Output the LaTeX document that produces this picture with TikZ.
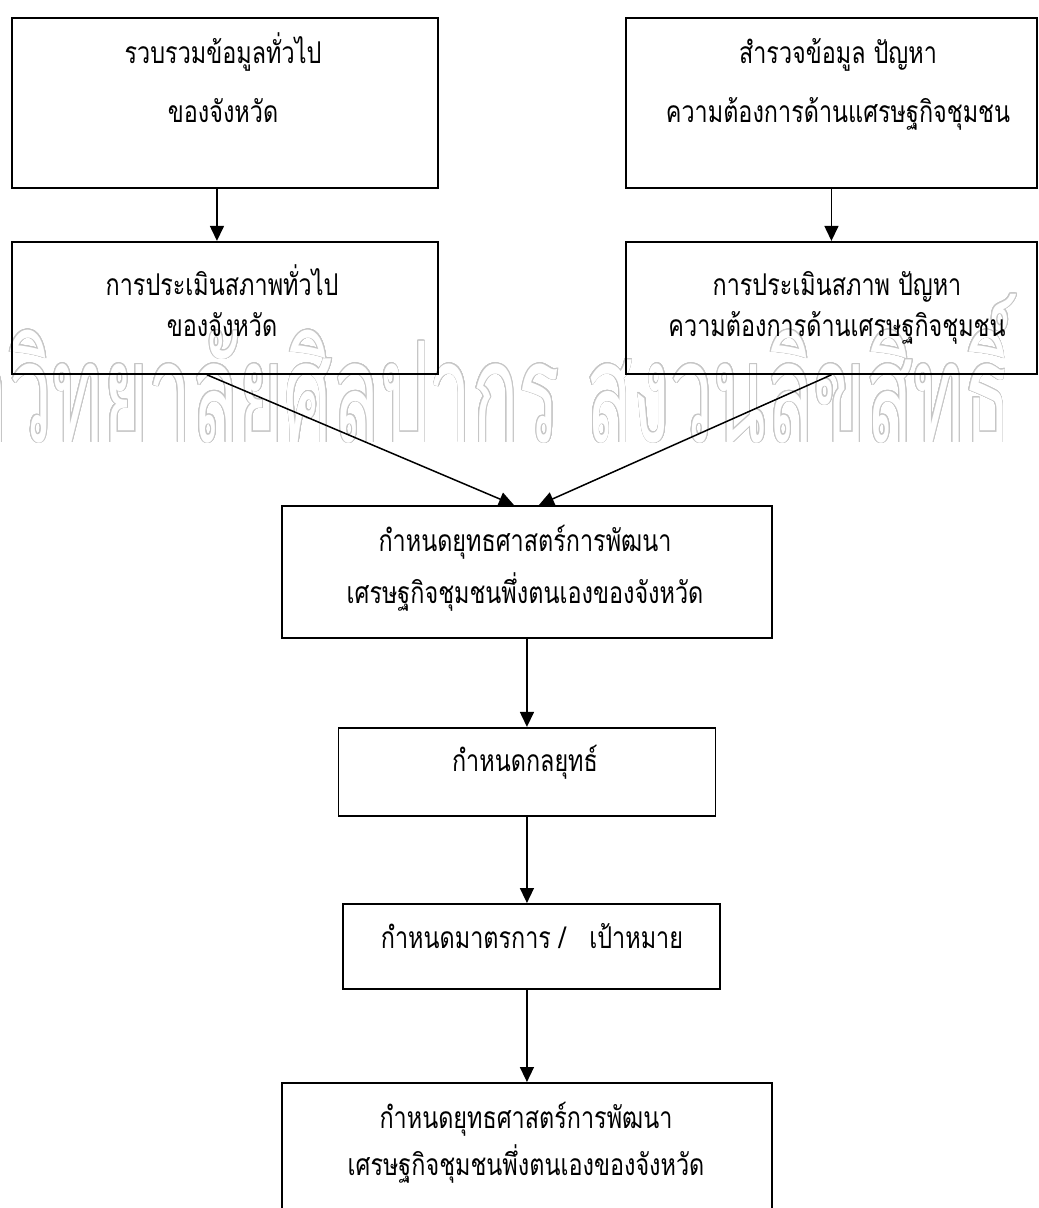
\documentclass[tikz,border=0pt]{standalone}
\usepackage{fontspec}
\newfontfamily\thaifont[Script=Thai, FakeStretch=0.78]{Loma}
\newfontfamily\wmfont[Script=Thai, FakeStretch=0.55]{Loma}
\usepackage{contour}
\contourlength{0.9pt}
\contournumber{24}
\usetikzlibrary{positioning, arrows.meta}

\begin{document}
\begin{tikzpicture}[x=1pt, y=-1pt,
    box/.style 2 args={draw, line width=1.9pt, minimum width=#1, minimum height=#2, inner sep=0pt},
    txt/.style={font=\thaifont\fontsize{30}{#1}\selectfont, align=center, inner sep=0pt, anchor=base},
    arr/.style={-{Triangle[width=14pt,length=15pt]}, line width=1.5pt}]
    \useasboundingbox (0,0) rectangle (1039,1208);
    \clip (0,0) rectangle (1039,1208);

    % watermark
    \node[anchor=base west, inner sep=0pt, font=\wmfont\fontsize{140}{140}\selectfont] (wm) at (9,442)
        {\color{white}\contour{gray!45}{\llap{มหา}วิทยาลัยศิลปากร สงวนลิขสิทธิ์}};

    % boxes
    \node[box={426pt}{170pt}, anchor=north west] (ruam) at (11,17) {};
    \node[box={426pt}{132pt}, below=52pt of ruam] (pm) {};
    \node[box={411pt}{170pt}, anchor=north west] (sr) at (625,17) {};
    \node[box={411pt}{132pt}, below=52pt of sr] (pp) {};
    \node[box={490pt}{132pt}, anchor=north west] (yt) at (281,505) {};
    \node[box={377pt}{88pt}, below=88pt of yt] (kl) {};
    \node[box={377pt}{85pt}, anchor=north west] (mt) at (342,903) {};
    \node[box={490pt}{160pt}, anchor=north west] (ytb) at (281,1082) {};

    % texts (anchor = baseline of the last line)
    \node[txt=59pt] (ruamt) at (223,122) {รวบรวมข้อมูลทั่วไป\\ของจังหวัด};
    \node[txt=41pt] (pmt) at (222,336) {การประเมินสภาพทั่วไป\\ของจังหวัด};
    \node[txt=59pt] (srt) at (838,122) {สำรวจข้อมูล ปัญหา\\ความต้องการด้านแศรษฐกิจชุมชน};
    \node[txt=41pt] (ppt) at (837,336) {การประเมินสภาพ ปัญหา\\ความต้องการด้านเศรษฐกิจชุมชน};
    \node[txt=52pt] (ytt) at (525,603) {กำหนดยุทธศาสตร์การพัฒนา\\เศรษฐกิจชุมชนพึ่งตนเองของจังหวัด};
    \node[txt=30pt] (klt) at (525,771) {กำหนดกลยุทธ์};
    \node[txt=30pt] (mtt) at (532,948) {กำหนดมาตรการ /\ \ \ เป้าหมาย};
    \node[txt=47pt] (ytbt) at (526,1175) {กำหนดยุทธศาสตร์การพัฒนา\\เศรษฐกิจชุมชนพึ่งตนเองของจังหวัด};

    % arrows
    \draw[arr] ([xshift=-8pt]ruam.south) -- ([xshift=-8pt]pm.north);
    \draw[arr] (sr) -- (pp);
    \draw[arr] ([xshift=-18pt]pm.south) -- ([xshift=-13pt]yt.north);
    \draw[arr] (pp.south) -- ([xshift=12pt]yt.north);
    \draw[arr] (yt) -- (kl);
    \draw[arr] (kl.south) -- (kl.south |- mt.north);
    \draw[arr] (ytb.north |- mt.south) -- (ytb.north);
\end{tikzpicture}
\end{document}
